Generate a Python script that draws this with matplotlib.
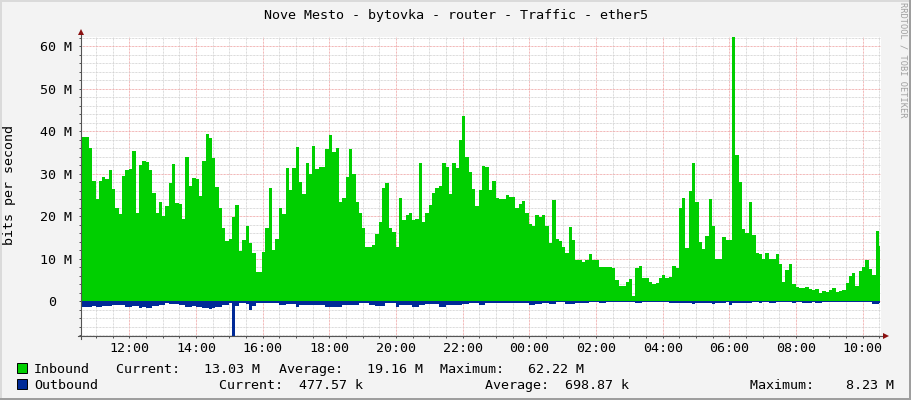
import numpy as np
import matplotlib.pyplot as plt
import matplotlib.transforms as mtrans
from matplotlib.patches import Rectangle

plt.rcParams['font.family'] = ['DejaVu Sans Mono']

# === CANVAS ===
W, H = 911, 400
DPI = 100

# === TEXT ===
title = "Nove Mesto - bytovka - router - Traffic - ether5"
y_label = "bits per second"
watermark = "RRDTOOL / TOBI OETIKER"

# === DATA (Mbit/s, one sample every 6 minutes from 10:32) ===
start_hour = 10 + 32 / 60
step_hours = 0.1

inbound = [
    35.7, 38.7, 38.5, 36.0, 28.2, 24.0, 28.2, 29.3, 28.7, 30.8,
    26.4, 22.0, 20.5, 29.4, 30.8, 31.0, 35.3, 20.8, 32.0, 33.0,
    32.8, 30.8, 25.5, 20.8, 23.4, 20.1, 22.4, 27.7, 32.2, 23.0,
    22.8, 19.3, 33.8, 27.0, 28.9, 28.6, 24.7, 33.0, 39.3, 38.3,
    33.6, 26.9, 22.0, 17.3, 14.2, 14.5, 19.8, 22.6, 11.8, 14.4,
    17.6, 13.7, 11.4, 6.9, 6.9, 11.6, 17.3, 26.7, 12.0, 14.5,
    22.0, 20.5, 31.2, 26.1, 31.2, 36.2, 28.1, 25.2, 32.4, 30.0,
    36.5, 31.0, 31.5, 31.6, 35.8, 39.0, 35.0, 36.0, 23.4, 24.2,
    29.3, 35.7, 30.0, 23.4, 20.8, 17.3, 12.6,
    12.8, 13.2, 15.8, 18.7, 26.5, 27.7, 17.1, 16.3, 12.8, 24.2,
    19.1, 20.2, 20.6, 19.1, 19.2, 32.5, 18.7, 20.8, 22.6, 25.5,
    26.5, 27.1, 32.4, 31.5, 25.3, 32.5, 31.2, 37.9, 43.5, 34.0,
    30.4, 26.3, 22.4, 26.1, 31.8, 31.5, 26.1, 28.3, 24.2, 23.9,
    23.9, 24.9, 24.4, 24.4, 22.0, 22.8, 23.6, 20.8, 18.1, 17.6,
    20.2, 19.8, 20.2, 17.6, 13.6, 23.8, 14.7, 14.2, 12.8, 11.2,
    17.5, 14.4, 9.6, 9.6, 9.3, 9.6, 11.1, 9.6, 9.6, 8.1,
    8.1, 7.9, 7.9, 7.7, 4.9, 3.5, 3.5, 4.5, 5.1, 1.2,
    7.7, 8.2, 5.3, 5.3, 4.5, 4.0, 4.3, 5.3,
    6.1, 5.3, 5.6, 8.2, 7.7, 22.0, 24.2, 12.4, 26.0, 32.4,
    23.4, 14.0, 12.2, 15.3, 23.9, 17.6, 9.8, 10.0, 15.0, 14.4,
    14.4, 62.22, 34.4, 28.1, 16.9, 15.9, 23.4, 15.5, 11.2, 11.1,
    9.8, 11.2, 9.8, 9.8, 11.1, 8.7, 4.5, 7.3, 8.7, 4.0,
    3.2, 3.1, 3.0, 3.4, 2.9, 2.6, 2.9, 2.0, 2.4, 2.2,
    2.7, 3.1, 2.2, 2.4, 2.6, 4.3, 5.9, 6.7, 3.6, 7.1,
    8.1, 9.6, 7.6, 6.1, 16.5, 13.03,
]

outbound = [
    1.33, 1.33, 1.33, 1.33, 1.2, 1.4, 1.4, 1.2, 1.2, 1.2,
    1.0, 1.0, 1.0, 1.0, 1.33, 1.33, 1.2, 1.2, 1.6, 1.33,
    1.6, 1.6, 1.2, 1.2, 0.95, 0.95, 0.4, 0.8, 0.8, 0.8,
    1.0, 1.0, 1.4, 1.4, 1.2, 1.33, 1.33, 1.6, 1.6, 1.8,
    1.6, 1.33, 1.33, 1.0, 1.0, 0.55, 8.23, 1.2, 0.55, 0.55,
    0.8, 2.0, 1.2, 0.4, 0.4, 0.55, 0.55, 0.55, 0.55, 0.55,
    1.0, 1.0, 0.8, 0.8, 0.8, 1.33, 0.85, 0.85, 0.85, 0.85,
    0.85, 0.85, 0.85, 0.85, 1.33, 1.33, 1.33, 1.33, 1.33, 1.0,
    0.95, 0.95, 0.95, 0.95, 0.55, 0.55, 0.55, 1.0, 1.0, 1.2,
    1.2, 1.2, 0.55, 0.55, 0.55, 1.33, 0.95, 0.95, 0.95, 0.95,
    1.33, 1.33, 1.0, 1.0, 0.8, 0.8, 0.8, 0.8, 1.33, 1.33,
    0.95, 0.95, 0.95, 0.95, 0.95, 0.8, 0.8, 0.55, 0.55, 0.55,
    0.95, 0.95, 0.55, 0.55, 0.55, 0.55, 0.55, 0.55, 0.55, 0.55,
    0.55, 0.55, 0.55, 0.55, 0.55, 0.95, 0.95, 0.8, 0.8, 0.55,
    0.5, 0.6, 0.6, 0.3, 0.3, 0.3, 0.6, 0.6, 0.6, 0.4,
    0.4, 0.4, 0.45, 0.15, 0.15, 0.15, 0.4, 0.4, 0.15, 0.15,
    0.15, 0.15, 0.15, 0.15, 0.15, 0.15, 0.15, 0.4, 0.4, 0.15,
    0.15, 0.15, 0.15, 0.15, 0.15, 0.15, 0.15, 0.45, 0.45, 0.45,
    0.55, 0.55, 0.4, 0.4, 0.8, 0.4, 0.4, 0.4, 0.55, 0.55,
    0.8, 0.4, 0.4, 0.55, 0.3, 1.0, 0.55, 0.55, 0.55, 0.4,
    0.55, 0.55, 0.25, 0.25, 0.55, 0.25, 0.25, 0.55, 0.55, 0.25,
    0.25, 0.25, 0.25, 0.25, 0.4, 0.25, 0.25, 0.4, 0.4, 0.4,
    0.25, 0.4, 0.4, 0.15, 0.15, 0.15, 0.15, 0.3, 0.3, 0.3,
    0.3, 0.3, 0.3, 0.3, 0.25, 0.25, 0.25, 0.25, 0.7, 0.7,
    0.48,
]

y_min, y_max = -8.23, 62.22
ytick_vals = [0, 10, 20, 30, 40, 50, 60]
ytick_labels = ["0", "10 M", "20 M", "30 M", "40 M", "50 M", "60 M"]
xtick_hours = [12, 14, 16, 18, 20, 22, 24, 26, 28, 30, 32, 34]
xtick_labels = ["12:00", "14:00", "16:00", "18:00", "20:00", "22:00",
                "00:00", "02:00", "04:00", "06:00", "08:00", "10:00"]

series_names = ["Inbound", "Outbound"]
series_colors = ["#00CF00", "#002A97"]
series_stats = [
    ["Current:   13.03 M", "Average:   19.16 M", "Maximum:   62.22 M"],
    ["Current:  477.57 k", "Average:  698.87 k", "Maximum:    8.23 M"],
]

# === STYLE ===
BG = "#F3F3F3"
AXIS_COL = "#555555"
ARROW_COL = "#8B1010"
MAJOR_GRID = "#EE9E9E"
MINOR_GRID = "#CFCFCF"
FS = 9.6


def fx(px):
    return px / W


def fy(py):
    return 1 - py / H


fig = plt.figure(figsize=(W / DPI, H / DPI), dpi=DPI, facecolor=BG)

# 3D frame around the image
for (x0, y0, w, h, c) in [(0, 0, W, 2, "#DADADA"), (0, 0, 2, H, "#DADADA"),
                          (0, H - 2, W, 2, "#9E9E9E"), (W - 2, 0, 2, H, "#9E9E9E")]:
    fig.patches.append(Rectangle((fx(x0), fy(y0 + h)), w / W, h / H,
                                 transform=fig.transFigure, color=c, lw=0))

ax_top, ax_bottom = 36.6, 336
ax = fig.add_axes([fx(80.5), fy(ax_bottom), 800 / W, (ax_bottom - ax_top) / H])
ax.set_facecolor("white")

t = start_hour + step_hours * np.arange(len(inbound))
ax.fill_between(t, 0, inbound, step="mid", color=series_colors[0], lw=0, zorder=2)
ax.fill_between(t, 0, -np.array(outbound), step="mid", color=series_colors[1], lw=0, zorder=2)

ax.set_xlim(t[0], t[-1])
ax.set_ylim(y_min, y_max)

ax.set_xticks(xtick_hours)
ax.set_xticklabels(xtick_labels)
ax.set_xticks(np.arange(11, 35, 0.5), minor=True)
ax.set_yticks(ytick_vals)
ax.set_yticklabels(ytick_labels)
ax.set_yticks(np.arange(-8, 63, 2), minor=True)

dots = (0, (0.72, 0.72))
ax.set_axisbelow(True)
ax.grid(which="minor", color=MINOR_GRID, linestyle=dots, lw=0.72)
ax.grid(which="major", color=MAJOR_GRID, linestyle=dots, lw=0.72)

for s in ax.spines.values():
    s.set_visible(False)

ax.tick_params(axis="x", which="both", direction="out", length=1.6, width=0.72,
               color=AXIS_COL, pad=2.6, labelsize=FS)
ax.tick_params(axis="y", which="both", direction="out", length=1.5, width=0.72,
               color=AXIS_COL, pad=4.8, labelsize=FS)

# shift the zero label so its digit lines up with the units of "60 M"
for lab in ax.get_yticklabels():
    if lab.get_text() == "0":
        lab.set_transform(lab.get_transform() +
                          mtrans.ScaledTranslation(-0.16, 0, fig.dpi_scale_trans))

# axis lines with arrows
h_ax = ax_bottom - ax_top
ax.plot([0, 0], [-3 / h_ax, 1 + 4 / h_ax], color=AXIS_COL, lw=0.8,
        transform=ax.transAxes, clip_on=False, zorder=5)
ax.plot([-3 / 800, 1 + 4 / 800], [0, 0], color=AXIS_COL, lw=0.8,
        transform=ax.transAxes, clip_on=False, zorder=5)
ax.plot([0], [1 + 5 / h_ax], marker="^", ms=4.5, color=ARROW_COL, mew=0,
        transform=ax.transAxes, clip_on=False, zorder=6)
ax.plot([1 + 5 / 800], [0], marker=">", ms=4.5, color=ARROW_COL, mew=0,
        transform=ax.transAxes, clip_on=False, zorder=6)

# titles
fig.text(fx(455.5), fy(18.5), title, ha="center", va="baseline", fontsize=FS)
fig.text(fx(10), fy(185), y_label, ha="center", va="center", rotation=90, fontsize=FS)
fig.text(fx(903), fy(60), watermark, ha="center", va="center", rotation=270,
         fontsize=6.2, color="#A0A0A0")

# legend
row_base = [373, 389]
stat_x = [[116, 279, 440], [219, 485, 750]]
for i, name in enumerate(series_names):
    fig.patches.append(Rectangle((fx(17), fy(row_base[i])), 10 / W, 10 / H,
                                 transform=fig.transFigure, facecolor=series_colors[i],
                                 edgecolor="black", lw=0.7))
    fig.text(fx(34), fy(row_base[i]), name, ha="left", va="baseline", fontsize=FS)
    for j, s in enumerate(series_stats[i]):
        fig.text(fx(stat_x[i][j]), fy(row_base[i]), s, ha="left", va="baseline", fontsize=FS)

fig.savefig("out.png", dpi=DPI, facecolor=BG)
